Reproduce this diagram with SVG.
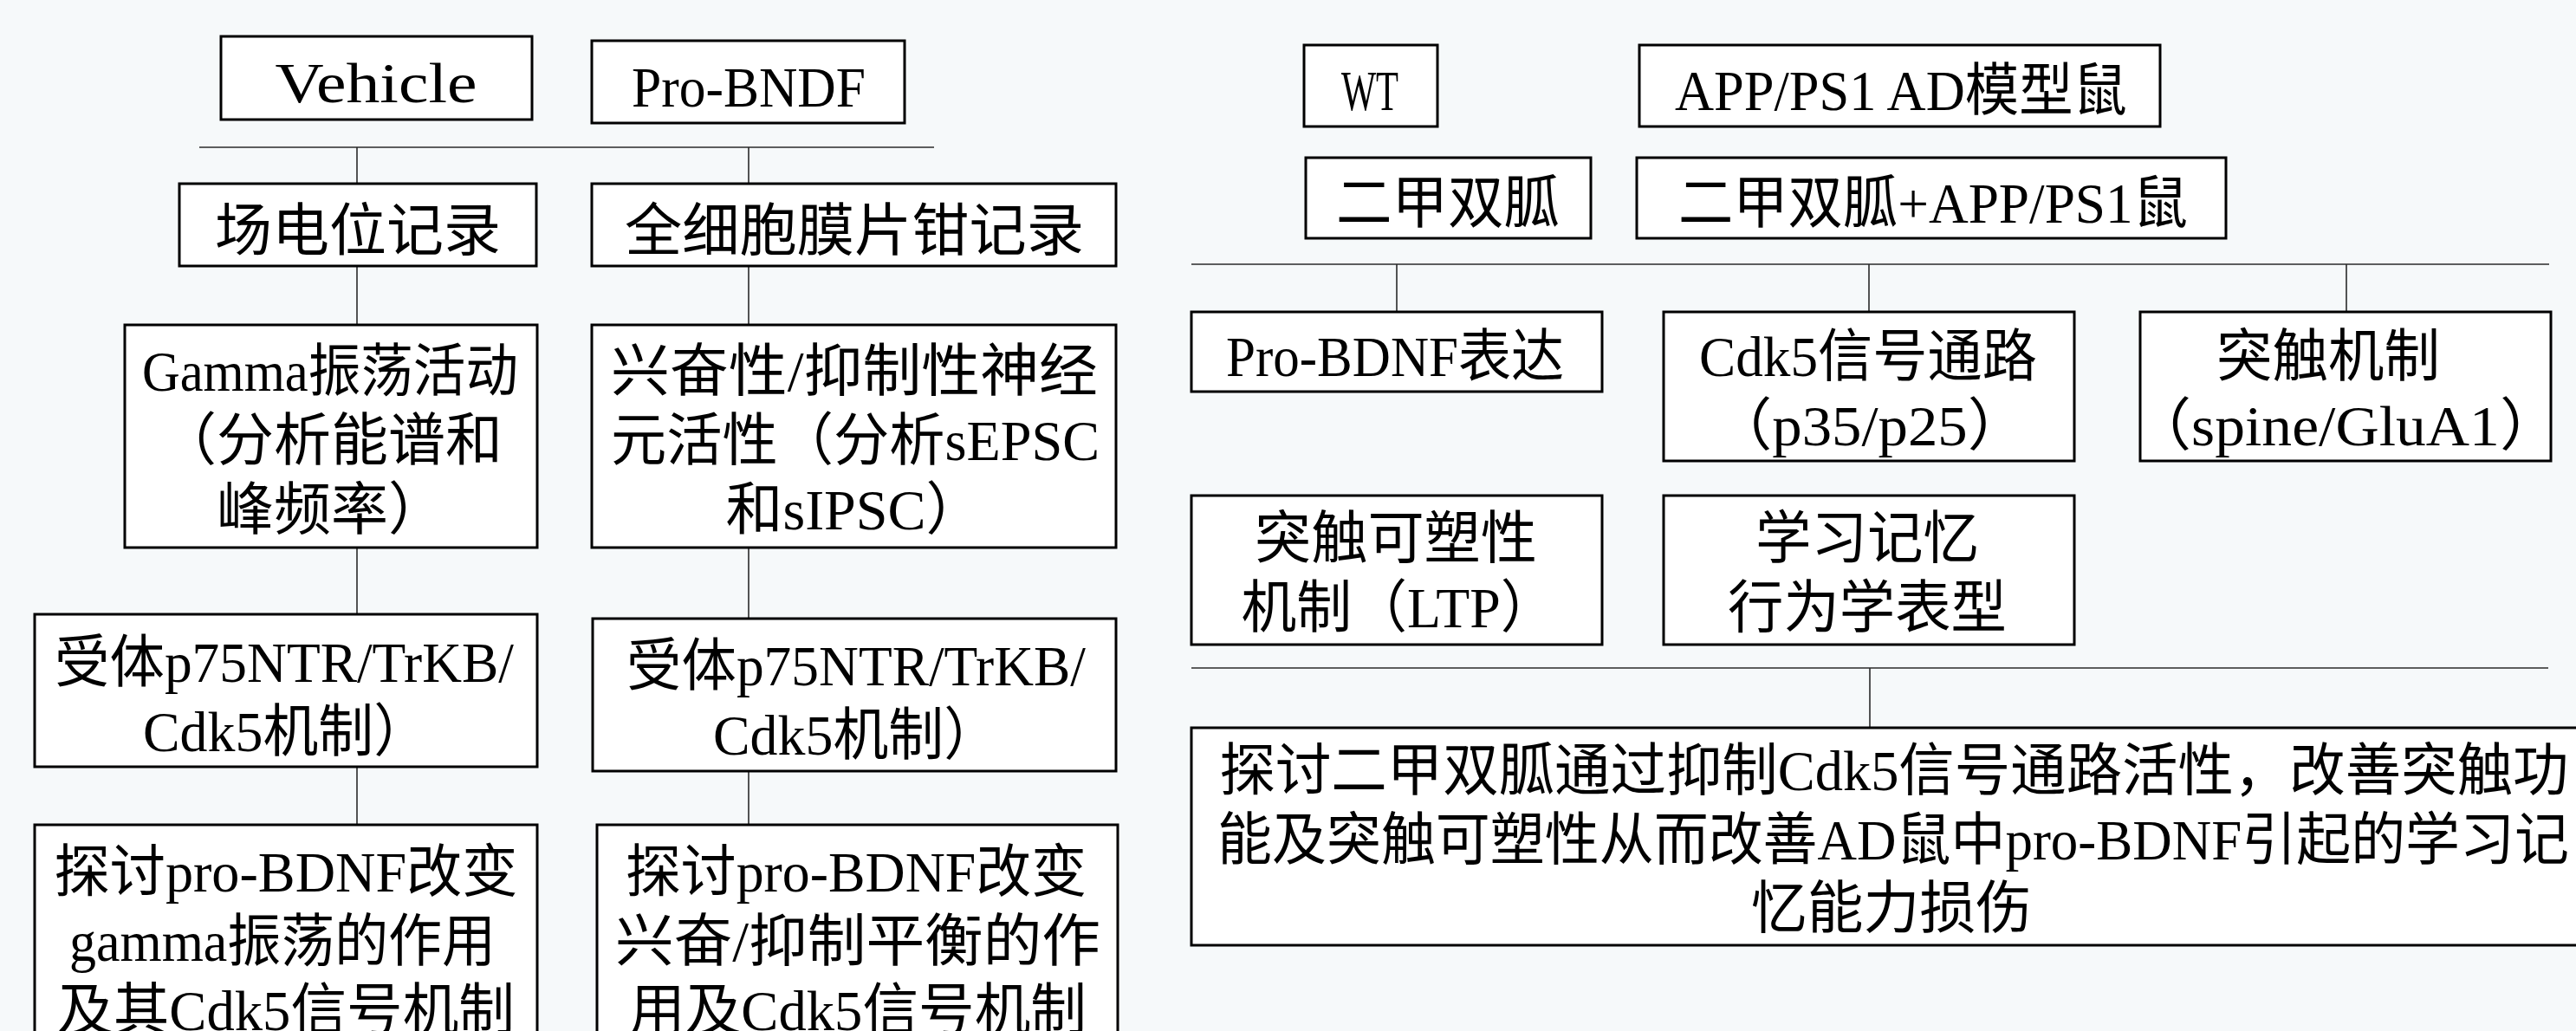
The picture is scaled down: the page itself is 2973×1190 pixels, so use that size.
<svg xmlns="http://www.w3.org/2000/svg" width="2973" height="1190" viewBox="0 0 2973 1190">
<style>
.bg{fill:#f6f9fa}
.box{fill:#ffffff;stroke:#000000;stroke-width:3}
.ln{stroke:#2a2a2a;stroke-width:1.6;fill:none}
.t{font-family:"Liberation Serif","Noto Sans CJK SC",serif;font-size:66px;fill:#000000;text-anchor:middle}
</style>
<rect class="bg" x="0" y="0" width="2973" height="1190"/>
<g id="connectors">
<line class="ln" x1="230" y1="170" x2="1078" y2="170"/>
<line class="ln" x1="412" y1="170" x2="412" y2="212"/>
<line class="ln" x1="864" y1="170" x2="864" y2="212"/>
<line class="ln" x1="412" y1="307" x2="412" y2="375"/>
<line class="ln" x1="864" y1="307" x2="864" y2="375"/>
<line class="ln" x1="412" y1="632" x2="412" y2="709"/>
<line class="ln" x1="864" y1="632" x2="864" y2="714"/>
<line class="ln" x1="412" y1="885" x2="412" y2="952"/>
<line class="ln" x1="864" y1="890" x2="864" y2="952"/>
<line class="ln" x1="1375" y1="305" x2="2942" y2="305"/>
<line class="ln" x1="1612" y1="305" x2="1612" y2="360"/>
<line class="ln" x1="2157" y1="305" x2="2157" y2="360"/>
<line class="ln" x1="2708" y1="305" x2="2708" y2="360"/>
<line class="ln" x1="1375" y1="771" x2="2941" y2="771"/>
<line class="ln" x1="2158" y1="771" x2="2158" y2="840"/>
</g>
<g id="vehicle"><rect class="box" x="255" y="42" width="359" height="96"/><text class="t" x="434" y="118" textLength="233" lengthAdjust="spacingAndGlyphs">Vehicle</text></g>
<g id="probndf"><rect class="box" x="683" y="47" width="361" height="95"/><text class="t" x="864" y="123" textLength="270" lengthAdjust="spacingAndGlyphs">Pro-BNDF</text></g>
<g id="field"><rect class="box" x="207" y="212" width="412" height="95"/><text class="t" x="413" y="289" textLength="330" lengthAdjust="spacingAndGlyphs">场电位记录</text></g>
<g id="patch"><rect class="box" x="683" y="212" width="605" height="95"/><text class="t" x="986" y="289" textLength="530" lengthAdjust="spacingAndGlyphs">全细胞膜片钳记录</text></g>
<g id="gamma"><rect class="box" x="144" y="375" width="476" height="257"/>
<text class="t" x="381" y="451" textLength="434" lengthAdjust="spacingAndGlyphs">Gamma振荡活动</text>
<text class="t" x="382" y="531" textLength="396" lengthAdjust="spacingAndGlyphs">（分析能谱和</text>
<text class="t" x="382" y="611" textLength="264" lengthAdjust="spacingAndGlyphs">峰频率）</text></g>
<g id="excit"><rect class="box" x="683" y="375" width="605" height="257"/>
<text class="t" x="986" y="451" textLength="562" lengthAdjust="spacingAndGlyphs">兴奋性/抑制性神经</text>
<text class="t" x="987" y="531" textLength="564" lengthAdjust="spacingAndGlyphs">元活性（分析sEPSC</text>
<text class="t" x="986" y="611" textLength="297" lengthAdjust="spacingAndGlyphs">和sIPSC）</text></g>
<g id="receptorL"><rect class="box" x="40" y="709" width="580" height="176"/>
<text class="t" x="328" y="787" textLength="530" lengthAdjust="spacingAndGlyphs">受体p75NTR/TrKB/</text>
<text class="t" x="330" y="867" textLength="330" lengthAdjust="spacingAndGlyphs">Cdk5机制）</text></g>
<g id="receptorR"><rect class="box" x="684" y="714" width="604" height="176"/>
<text class="t" x="988" y="791" textLength="530" lengthAdjust="spacingAndGlyphs">受体p75NTR/TrKB/</text>
<text class="t" x="988" y="871" textLength="330" lengthAdjust="spacingAndGlyphs">Cdk5机制）</text></g>
<g id="goalL"><rect class="box" x="40" y="952" width="580" height="260"/>
<text class="t" x="330" y="1029" textLength="535" lengthAdjust="spacingAndGlyphs">探讨pro-BDNF改变</text>
<text class="t" x="326" y="1109" textLength="492" lengthAdjust="spacingAndGlyphs">gamma振荡的作用</text>
<text class="t" x="330" y="1189" textLength="528" lengthAdjust="spacingAndGlyphs">及其Cdk5信号机制</text></g>
<g id="goalR"><rect class="box" x="689" y="952" width="601" height="260"/>
<text class="t" x="988" y="1029" textLength="532" lengthAdjust="spacingAndGlyphs">探讨pro-BDNF改变</text>
<text class="t" x="990" y="1109" textLength="560" lengthAdjust="spacingAndGlyphs">兴奋/抑制平衡的作</text>
<text class="t" x="990" y="1189" textLength="528" lengthAdjust="spacingAndGlyphs">用及Cdk5信号机制</text></g>
<g id="wt"><rect class="box" x="1505" y="52" width="154" height="94"/><text class="t" x="1581" y="127" textLength="66" lengthAdjust="spacingAndGlyphs">WT</text></g>
<g id="app"><rect class="box" x="1892" y="52" width="601" height="94"/><text class="t" x="2194" y="127" textLength="522" lengthAdjust="spacingAndGlyphs">APP/PS1 AD模型鼠</text></g>
<g id="metformin"><rect class="box" x="1507" y="182" width="329" height="93"/><text class="t" x="1671" y="257" textLength="258" lengthAdjust="spacingAndGlyphs">二甲双胍</text></g>
<g id="metapp"><rect class="box" x="1889" y="182" width="680" height="93"/><text class="t" x="2231" y="257" textLength="588" lengthAdjust="spacingAndGlyphs">二甲双胍+APP/PS1鼠</text></g>
<g id="expr"><rect class="box" x="1375" y="360" width="474" height="92"/><text class="t" x="1610" y="434" textLength="390" lengthAdjust="spacingAndGlyphs">Pro-BDNF表达</text></g>
<g id="cdk5"><rect class="box" x="1920" y="360" width="474" height="172"/>
<text class="t" x="2156" y="434" textLength="390" lengthAdjust="spacingAndGlyphs">Cdk5信号通路</text>
<text class="t" x="2158" y="514" textLength="363" lengthAdjust="spacingAndGlyphs">（p35/p25）</text></g>
<g id="synapse"><rect class="box" x="2470" y="360" width="474" height="172"/>
<text class="t" x="2687" y="434" textLength="258" lengthAdjust="spacingAndGlyphs">突触机制</text>
<text class="t" x="2707" y="514" textLength="495" lengthAdjust="spacingAndGlyphs">（spine/GluA1）</text></g>
<g id="plasticity"><rect class="box" x="1375" y="572" width="474" height="172"/>
<text class="t" x="1611" y="644" textLength="326" lengthAdjust="spacingAndGlyphs">突触可塑性</text>
<text class="t" x="1614" y="724" textLength="363" lengthAdjust="spacingAndGlyphs">机制（LTP）</text></g>
<g id="memory"><rect class="box" x="1920" y="572" width="474" height="172"/>
<text class="t" x="2155" y="644" textLength="258" lengthAdjust="spacingAndGlyphs">学习记忆</text>
<text class="t" x="2155" y="724" textLength="322" lengthAdjust="spacingAndGlyphs">行为学表型</text></g>
<g id="aim"><rect class="box" x="1375" y="840" width="1617" height="251"/>
<text class="t" x="2186" y="912" textLength="1557" lengthAdjust="spacingAndGlyphs">探讨二甲双胍通过抑制Cdk5信号通路活性，改善突触功</text>
<text class="t" x="2185" y="992" textLength="1560" lengthAdjust="spacingAndGlyphs">能及突触可塑性从而改善AD鼠中pro-BDNF引起的学习记</text>
<text class="t" x="2183" y="1071" textLength="324" lengthAdjust="spacingAndGlyphs">忆能力损伤</text></g>
</svg>
